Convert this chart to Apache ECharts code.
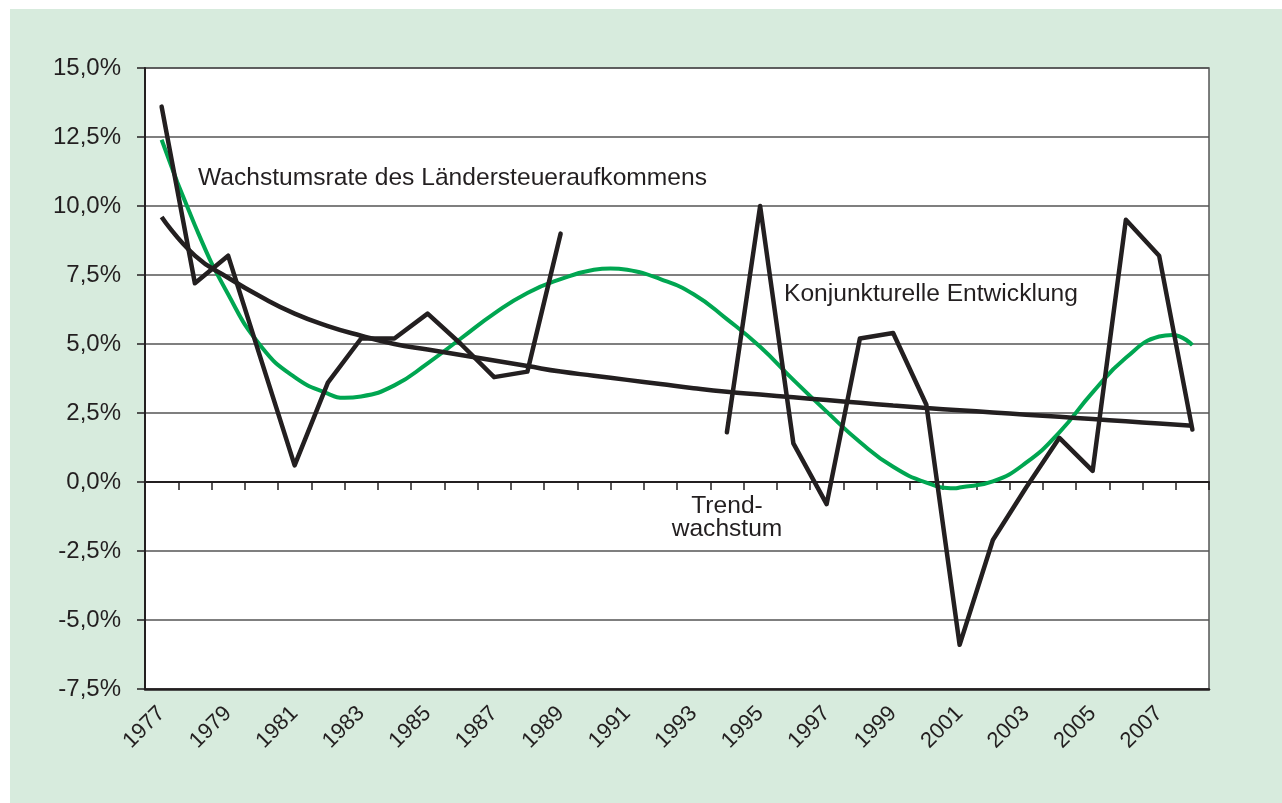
<!DOCTYPE html>
<html>
<head>
<meta charset="utf-8">
<script src="https://cdn.jsdelivr.net/npm/echarts@6/dist/echarts.min.js"></script>
<style>
  html, body { margin: 0; padding: 0; background: #ffffff; }
  #chart { width: 1282px; height: 803px; }
</style>
</head>
<body>
<div id="chart"></div>
<script>
const years = ['1977','1978','1979','1980','1981','1982','1983','1984','1985','1986','1987','1988','1989','1990','1991','1992','1993','1994','1995','1996','1997','1998','1999','2000','2001','2002','2003','2004','2005','2006','2007','2008'];

const growthRate = [13.6, 7.2, 8.2, 4.4, 0.6, 3.6, 5.2, 5.2, 6.1, 5.0, 3.8, 4.0, 9.0, null, null, null, null, 1.8, 10.0, 1.4, -0.8, 5.2, 5.4, 2.8, -5.9, -2.1, -0.2, 1.6, 0.4, 9.5, 8.2, 1.9];

const trendGrowth = [9.6, 8.2, 7.4, 6.7, 6.1, 5.65, 5.3, 5.0, 4.8, 4.6, 4.4, 4.2, 4.0, 3.85, 3.7, 3.55, 3.4, 3.27, 3.17, 3.07, 2.97, 2.87, 2.77, 2.68, 2.6, 2.52, 2.44, 2.36, 2.28, 2.2, 2.12, 2.04];

// cyclical component read per year, plus the turning points
const cyclicalYears = [1977, 1978, 1979, 1980, 1981, 1982, 1982.5, 1983, 1984, 1985, 1986, 1987, 1988, 1989, 1990, 1990.5, 1991, 1992, 1993, 1994, 1995, 1996, 1997, 1998, 1999, 2000, 2000.85, 2001, 2002, 2003, 2004, 2005, 2006, 2007, 2007.4, 2008];
const cyclicalValues = [12.4, 9.3, 6.8, 4.9, 3.8, 3.2, 3.05, 3.1, 3.5, 4.3, 5.2, 6.1, 6.85, 7.35, 7.69, 7.74, 7.69, 7.35, 6.8, 5.9, 4.9, 3.7, 2.55, 1.45, 0.55, -0.02, -0.23, -0.2, 0.02, 0.7, 1.8, 3.25, 4.5, 5.27, 5.33, 4.96];

const yTicks = { min: -7.5, max: 15, interval: 2.5 };

const labels = {
  growth: 'Wachstumsrate des Ländersteueraufkommens',
  cycle: 'Konjunkturelle Entwicklung',
  trend1: 'Trend-',
  trend2: 'wachstum'
};

const dark = '#231f20';
const green = '#00a651';
const font = '"Liberation Sans", Arial, Helvetica, sans-serif';
const annFont = '24.6px ' + font;

const cyclicalData = cyclicalYears.map((y, i) => [y, cyclicalValues[i]]);

const chart = echarts.init(document.getElementById('chart'), null, { renderer: 'canvas' });

const option = {
  backgroundColor: 'transparent',
  animation: false,
  graphic: [
    { type: 'rect', z: -100, silent: true, shape: { x: 10, y: 9, width: 1272, height: 794 }, style: { fill: '#d7ebdd' } },
    { type: 'text', z: 100, style: { x: 198, y: 178, text: labels.growth, font: annFont, fill: dark, align: 'left', verticalAlign: 'middle' } },
    { type: 'text', z: 100, style: { x: 784, y: 294, text: labels.cycle, font: annFont, fill: dark, align: 'left', verticalAlign: 'middle' } },
    { type: 'text', z: 100, style: { x: 727, y: 506, text: labels.trend1, font: annFont, fill: dark, align: 'center', verticalAlign: 'middle' } },
    { type: 'text', z: 100, style: { x: 727, y: 529, text: labels.trend2, font: annFont, fill: dark, align: 'center', verticalAlign: 'middle' } }
  ],
  grid: {
    left: 145, top: 68, right: 73, bottom: 114,
    show: true, backgroundColor: '#ffffff', borderColor: '#555555', borderWidth: 1.5
  },
  xAxis: [
    {
      type: 'category', data: years, boundaryGap: true,
      axisLine: { onZero: true, lineStyle: { color: dark, width: 2 } },
      axisTick: { show: true, interval: 0, length: 8, lineStyle: { color: dark, width: 1.5 } },
      axisLabel: { show: false },
      splitLine: { show: false }
    },
    {
      type: 'category', data: years, boundaryGap: true, position: 'bottom',
      axisLine: { onZero: false, show: true, lineStyle: { color: dark, width: 2.5 } },
      axisTick: { show: false },
      axisLabel: { interval: 1, rotate: 45, margin: 21, fontSize: 22, fontFamily: font, color: dark },
      splitLine: { show: false }
    },
    {
      type: 'value', min: 1976.5, max: 2008.5, show: false,
      splitLine: { show: false }
    }
  ],
  yAxis: {
    type: 'value', min: yTicks.min, max: yTicks.max, interval: yTicks.interval,
    axisLine: { show: true, onZero: false, lineStyle: { color: dark, width: 2 } },
    axisTick: { show: true, length: 8, lineStyle: { color: dark, width: 1.5 } },
    axisLabel: {
      margin: 24, fontSize: 24, fontFamily: font, color: dark,
      formatter: v => v.toFixed(1).replace('.', ',') + '%'
    },
    splitLine: { show: true, lineStyle: { color: '#555555', width: 1.5 } }
  },
  series: [
    {
      name: 'Konjunktur', type: 'line', data: cyclicalData, xAxisIndex: 2, smooth: 0.5,
      showSymbol: false, z: 3, lineStyle: { color: green, width: 4 }
    },
    {
      name: 'Trend', type: 'line', data: trendGrowth, xAxisIndex: 0, smooth: 0.5,
      showSymbol: false, z: 4, lineStyle: { color: dark, width: 4.5 }
    },
    {
      name: 'Wachstumsrate', type: 'line', data: growthRate, xAxisIndex: 0, smooth: false,
      connectNulls: false, showSymbol: false, z: 5,
      lineStyle: { color: dark, width: 4.5, join: 'round', cap: 'round' }
    }
  ]
};

chart.setOption(option);
</script>
</body>
</html>
